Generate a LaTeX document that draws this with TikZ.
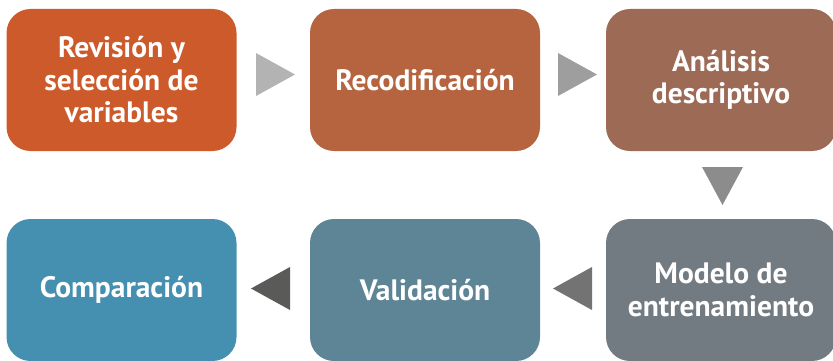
\documentclass[tikz,border=0pt]{standalone}
\usepackage{fontspec}
\setmainfont{PT Sans}
\definecolor{cA}{HTML}{CC5A2A}
\definecolor{cB}{HTML}{B5643F}
\definecolor{cC}{HTML}{9C6A55}
\definecolor{cD}{HTML}{737B82}
\definecolor{cE}{HTML}{5D8596}
\definecolor{cF}{HTML}{4590B0}
\definecolor{tA}{HTML}{B3B3B3}
\definecolor{tB}{HTML}{9E9E9E}
\definecolor{tC}{HTML}{8C8C8C}
\definecolor{tD}{HTML}{737373}
\definecolor{tE}{HTML}{5A5A58}
\begin{document}
\begin{tikzpicture}[x=1pt,y=-1pt,
  stepbox/.style={rectangle, rounded corners=24pt, minimum width=230pt, minimum height=142pt,
    inner sep=0pt, text=white, align=center, font=\fontsize{29.5}{32.5}\selectfont\bfseries}]
\useasboundingbox (0,0) rectangle (833,361);
\clip (0,0) rectangle (833,361);
\node[stepbox, fill=cA] (b1) at (121.5,80) {Revisión y\\selección de\\variables};
\node[stepbox, fill=cB] (b2) at (425,80) {Recodificación};
\node[stepbox, fill=cC] (b3) at (721,80) {Análisis\\descriptivo};
\node[stepbox, fill=cD] (b4) at (721,290) {Modelo de\\entrenamiento};
\node[stepbox, fill=cE] (b5) at (425,290) {Validación};
\node[stepbox, fill=cF] (b6) at (121.5,290) {Comparación};
\fill[tA] (256,53) -- (295,74.5) -- (256,96) -- cycle;
\fill[tB] (558,53) -- (597,74.5) -- (558,96) -- cycle;
\fill[tC] (702,167) -- (743,167) -- (722.5,205) -- cycle;
\fill[tD] (592,267) -- (553,288.5) -- (592,310) -- cycle;
\fill[tE] (290,267) -- (251,288.5) -- (290,310) -- cycle;
\end{tikzpicture}
\end{document}
